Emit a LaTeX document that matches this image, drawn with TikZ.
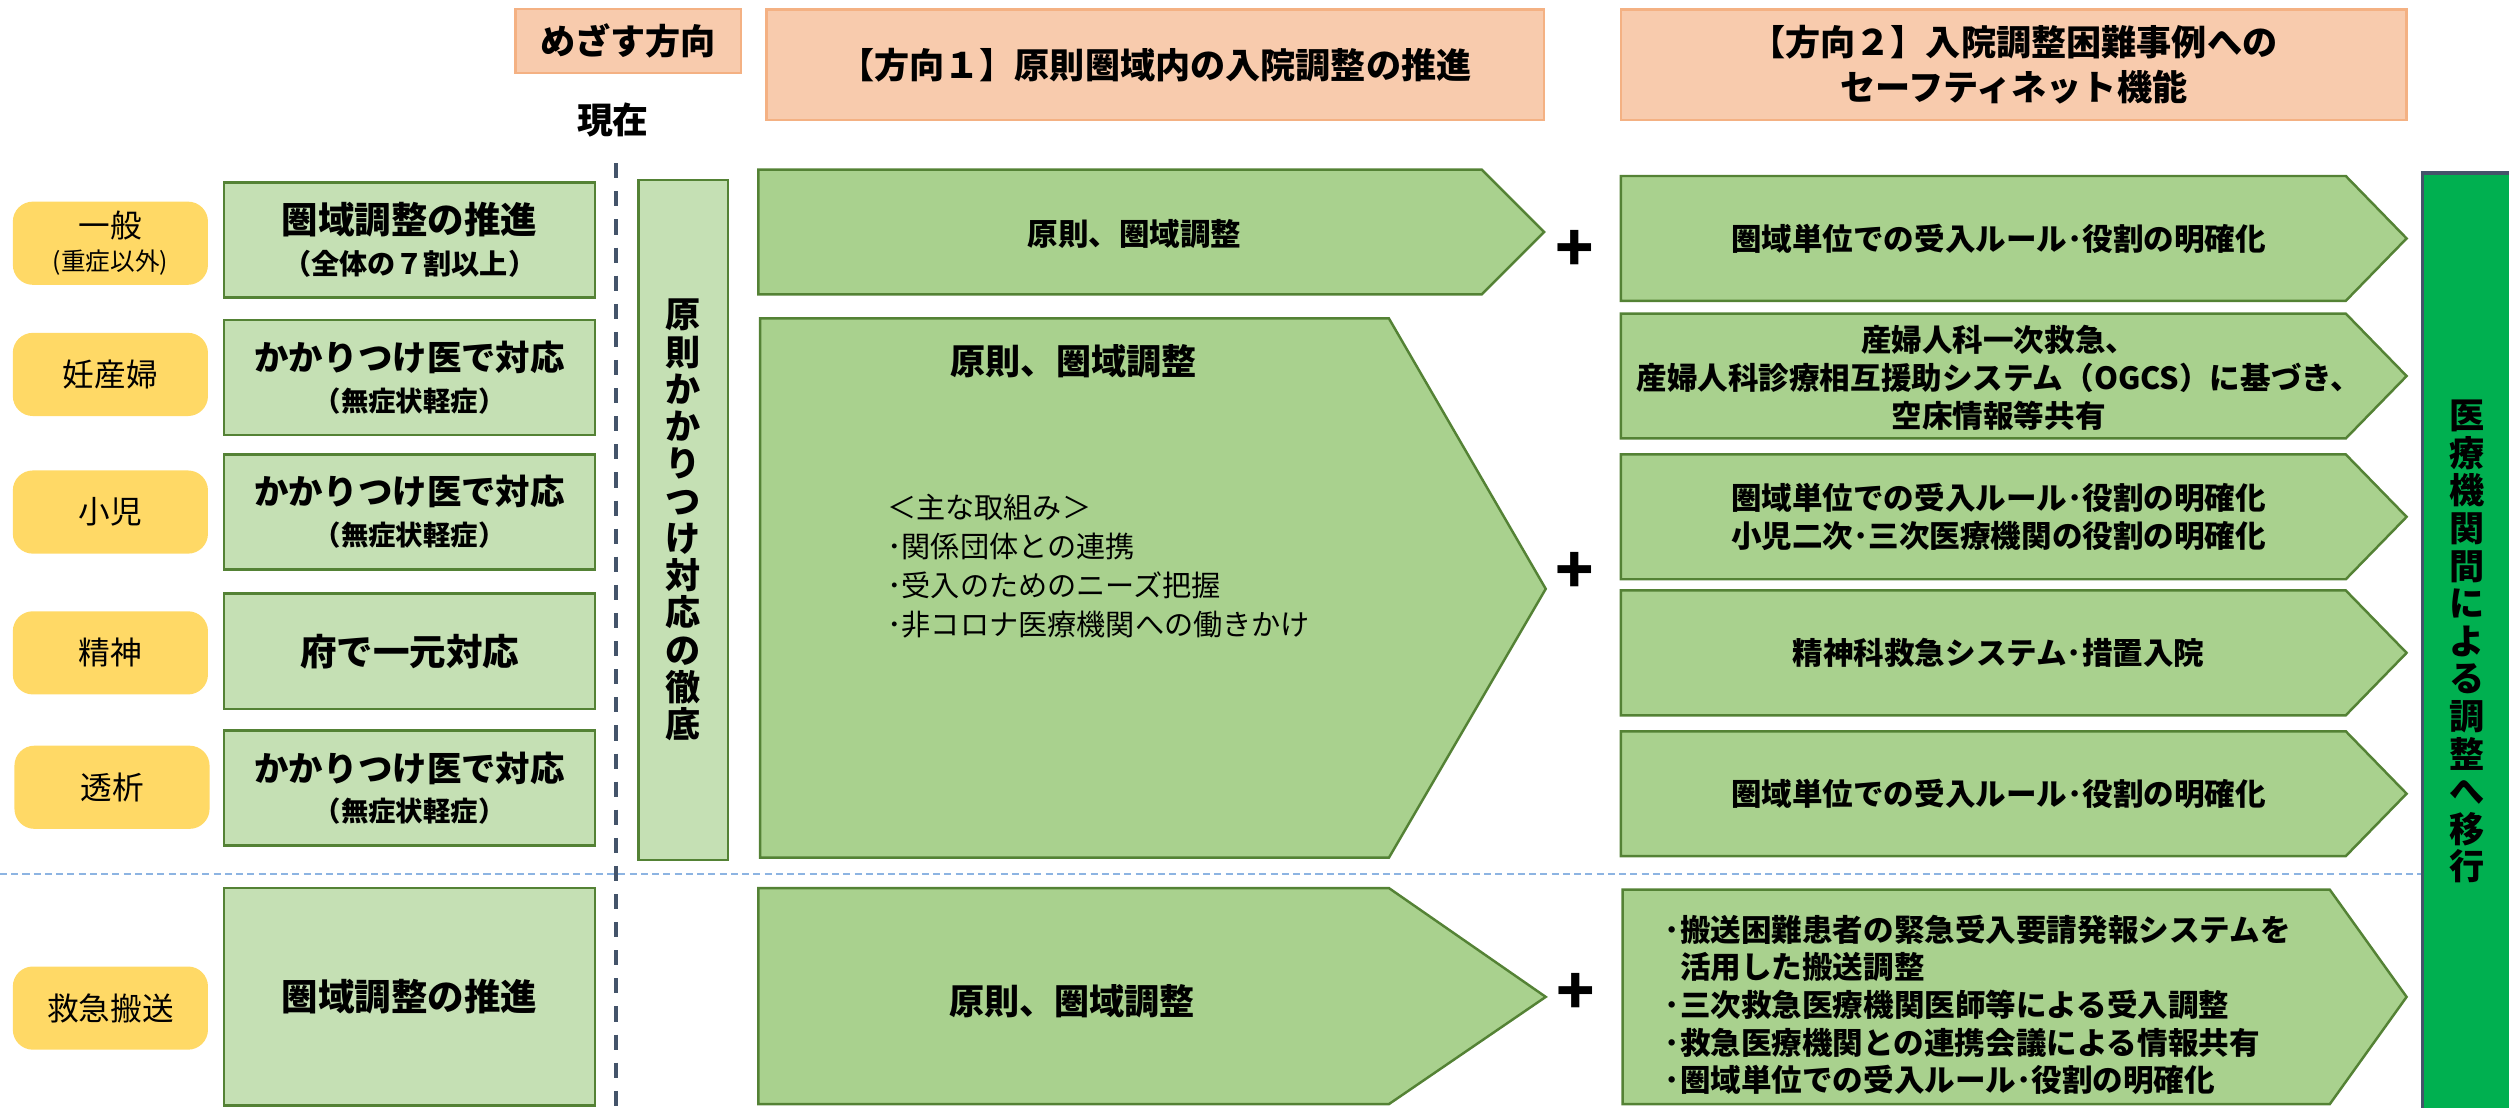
\documentclass[tikz,border=0pt]{standalone}
\usepackage{fontspec}
\setmainfont{Noto Sans CJK JP}
\usepackage{tikz}
\usetikzlibrary{positioning,shapes}
\definecolor{headfill}{HTML}{F8CBAD}
\definecolor{headline}{HTML}{F4B183}
\definecolor{catfill}{HTML}{FFD966}
\definecolor{nowfill}{HTML}{C5E0B4}
\definecolor{flowfill}{HTML}{A9D18E}
\definecolor{flowline}{HTML}{548235}
\definecolor{barfill}{HTML}{00B050}
\definecolor{slate}{HTML}{44546A}
\definecolor{sepblue}{HTML}{8DB4E2}
\tikzset {
    style head/.style={
        fill=headfill,
        draw=headline,
        line width=0.7pt,
        rectangle, % header box
        inner sep=0pt,
        align=center,
        font=\bfseries\fontsize{10}{12.7}\selectfont,
    },
    style cat/.style={
        fill=catfill,
        draw=none,
        rounded corners=.2cm,
        minimum width=1.952cm,
        minimum height=0.832cm,
        inner sep=0pt,
        align=center,
        font=\fontsize{9}{9.6}\selectfont,
    },
    style now/.style={
        fill=nowfill,
        draw=flowline,
        line width=0.7pt,
        rectangle, % current state
        minimum width=3.712cm,
        minimum height=1.152cm,
        inner sep=0pt,
        align=center,
        font=\bfseries\fontsize{10.4}{11.6}\selectfont,
    },
    style pillar/.style={
        fill=nowfill,
        draw=flowline,
        line width=0.7pt,
        minimum width=0.896cm,
        minimum height=6.8cm,
        inner sep=0pt,
        align=center,
        font=\bfseries\fontsize{10}{10.6}\selectfont,
    },
    style flow/.style={
        fill=flowfill,
        draw=flowline,
        line width=0.7pt,
    },
    style label/.style={
        inner sep=0pt,
        align=center,
        font=\bfseries\fontsize{8.7}{10.9}\selectfont,
    },
    style plus/.style={
        inner sep=0pt,
        font=\bfseries\fontsize{18}{18}\selectfont,
    },
    style bar/.style={
        fill=barfill,
        draw=slate,
        line width=0.9pt,
        minimum width=0.896cm,
        minimum height=9.376cm,
        inner sep=0pt,
        align=center,
        font=\bfseries\fontsize{10}{10.7}\selectfont,
    },
    style nowline/.style={draw=slate, line width=1pt, dash pattern=on 4.3pt off 3.7pt},
    style sep/.style={draw=sepblue, line width=0.6pt, dash pattern=on 2pt off 1.2pt},
}
\begin{document}
\begin{tikzpicture}[x=0.016cm, y=-0.016cm]
\useasboundingbox (0,0) rectangle (1568,692);

% headers
\node[style head, minimum width=2.256cm, minimum height=0.64cm] at (392.5,25.5) (aim) {めざす方向};
\node[style head, minimum width=7.776cm, minimum height=1.104cm] at (722,40.5) (dir1) {【方向１】原則圏域内の入院調整の推進};
\node[style head, minimum width=7.856cm, minimum height=1.104cm] at (1258.5,40.5) (dir2) {【方向２】入院調整困難事例への\\セーフティネット機能};
\node[font=\bfseries\fontsize{10.2}{12}\selectfont, inner sep=0pt] at (383,75) (now) {現在};

% separators
\coordinate (nowtop) at (385,102);
\coordinate (nowbot) at (385,692);
\coordinate (sepl) at (0,546);
\coordinate (sepr) at (1514,546);
\draw[style sep] (sepl) -- (sepr);
\draw[style nowline] (nowtop) -- (nowbot);

% categories
\node[style cat] at (69,152) (general) {一般\\{\fontsize{7}{8}\selectfont (重症以外)}};
\node[style cat] at (69,234) (preg) {妊産婦};
\node[style cat] at (69,320) (child) {小児};
\node[style cat] at (69,408) (mental) {精神};
\node[style cat] at (70,492) (dialysis) {透析};
\node[style cat] at (69,630) (transport) {救急搬送};

% current state
\node[style now] at (256,150) (gennow) {圏域調整の推進\\{\fontsize{8}{9}\selectfont （全体の７割以上）}};
\node[style now, font=\bfseries\fontsize{9.8}{11.6}\selectfont] at (256,236) (pregnow) {かかりつけ医で対応\\{\fontsize{7.8}{9}\selectfont （無症状軽症）}};
\node[style now, font=\bfseries\fontsize{9.8}{11.6}\selectfont] at (256,320) (childnow) {かかりつけ医で対応\\{\fontsize{7.8}{9}\selectfont （無症状軽症）}};
\node[style now] at (256,407) (mentalnow) {府で一元対応};
\node[style now, font=\bfseries\fontsize{9.8}{11.6}\selectfont] at (256,492.5) (dialnow) {かかりつけ医で対応\\{\fontsize{7.8}{9}\selectfont （無症状軽症）}};
\node[style now, minimum height=2.176cm] at (256,623) (transnow) {圏域調整の推進};

\node[style pillar] at (427,325) (pillar) {原\\則\\か\\か\\り\\つ\\け\\対\\応\\の\\徹\\底};

% direction 1
\draw[style flow] (474,106) -- (926,106) -- (965,145) -- (926,184) -- (474,184) -- cycle;
\draw[style flow] (475,199) -- (868,199) -- (966,368) -- (868,536) -- (475,536) -- cycle;
\draw[style flow] (474,555) -- (868,555) -- (966,623) -- (868,690) -- (474,690) -- cycle;
\node[style label] at (709,146) (gencore) {原則、圏域調整};
\node[style label, font=\bfseries\fontsize{10}{12}\selectfont] at (671,226) (maincore) {原則、圏域調整};
\node[inner sep=0pt, align=left, anchor=west, font=\fontsize{8.3}{11.1}\selectfont] at (554,354) (actions) {＜主な取組み＞\\･関係団体との連携\\･受入のためのニーズ把握\\･非コロナ医療機関への働きかけ};
\node[style label, font=\bfseries\fontsize{10}{12}\selectfont] at (670,626) (transcore) {原則、圏域調整};

\node[style plus] at (984,157) (plus1) {+};
\node[style plus] at (984,358) (plus2) {+};
\node[style plus] at (985,621) (plus3) {+};

% direction 2
\draw[style flow] (1013,110) -- (1466,110) -- (1504,149) -- (1466,188) -- (1013,188) -- cycle;
\draw[style flow] (1013,196) -- (1466,196) -- (1504,235) -- (1466,274) -- (1013,274) -- cycle;
\draw[style flow] (1013,284) -- (1466,284) -- (1504,323) -- (1466,362) -- (1013,362) -- cycle;
\draw[style flow] (1013,369) -- (1466,369) -- (1504,408) -- (1466,447) -- (1013,447) -- cycle;
\draw[style flow] (1013,457) -- (1466,457) -- (1504,496) -- (1466,535) -- (1013,535) -- cycle;
\draw[style flow] (1014,556) -- (1456,556) -- (1504,623) -- (1456,690) -- (1014,690) -- cycle;
\node[style label] at (1249,149) (rule1) {圏域単位での受入ルール･役割の明確化};
\node[style label] at (1249,236) (rule2) {産婦人科一次救急、\\産婦人科診療相互援助システム（OGCS）に基づき、\\空床情報等共有};
\node[style label] at (1249,323) (rule3) {圏域単位での受入ルール･役割の明確化\\小児二次･三次医療機関の役割の明確化};
\node[style label] at (1249,408) (rule4) {精神科救急システム･措置入院};
\node[style label] at (1249,496) (rule5) {圏域単位での受入ルール･役割の明確化};
\node[style label, align=left, anchor=west, font=\bfseries\fontsize{8.7}{10.7}\selectfont] at (1040,628) (rule6) {･搬送困難患者の緊急受入要請発報システムを\\\hspace*{0.5em}活用した搬送調整\\･三次救急医療機関医師等による受入調整\\･救急医療機関との連携会議による情報共有\\･圏域単位での受入ルール･役割の明確化};

\node[style bar] at (1542,401) (shift) {医\\療\\機\\関\\間\\に\\よ\\る\\調\\整\\へ\\移\\行};
\end{tikzpicture}
\end{document}
